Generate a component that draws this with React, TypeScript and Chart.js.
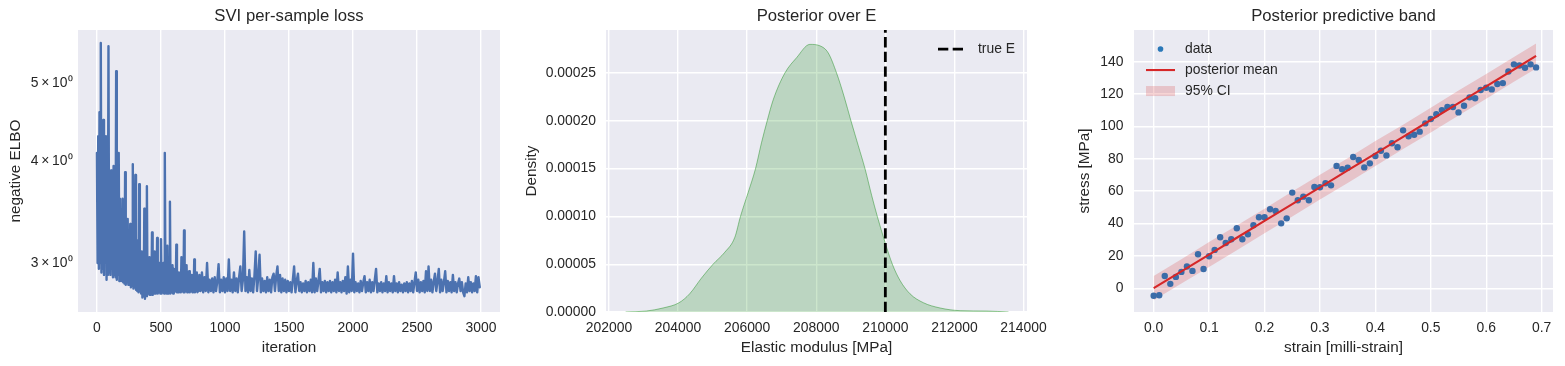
import React, { useEffect, useRef } from 'react';
import { Chart, registerables } from 'chart.js';

Chart.register(...registerables);

const FONT = "'Liberation Sans', Arial, Helvetica, sans-serif";
const TEXT = '#262626';
const BG = '#EAEAF2';

// ---------------- Panel 1: SVI per-sample loss ----------------
// iterations 0..795, one value every 5 iterations
const EARLY_STEP = 5;
const lossEarly = [
  4.1, 3.0, 4.3, 2.95, 4.6, 3.0, 5.6, 2.92, 4.2, 2.95,
  4.5, 2.9, 4.0, 3.1, 4.3, 2.86, 3.9, 2.9, 5.55, 2.92,
  3.6, 2.9, 3.9, 2.95, 3.3, 2.88, 3.95, 2.9, 3.7, 2.88,
  5.17, 2.86, 3.5, 2.9, 4.1, 2.85, 3.6, 2.87, 3.4, 2.85,
  3.6, 2.84, 3.3, 2.83, 3.88, 2.82, 3.2, 2.84, 3.4, 2.82,
  3.2, 2.82, 3.35, 2.8, 3.1, 2.81, 3.97, 2.79, 3.3, 2.8,
  3.85, 2.78, 3.1, 2.77, 3.2, 2.76, 3.75, 2.77, 3.0, 2.75,
  3.1, 2.72, 2.95, 2.73, 3.5, 2.71, 3.0, 2.73, 3.73, 2.74,
  2.95, 2.75, 3.05, 2.74, 2.9, 2.75, 3.27, 2.74, 2.95, 2.75,
  3.1, 2.75, 2.9, 2.76, 3.22, 2.75, 2.95, 2.76, 3.0, 2.75,
  3.21, 2.75, 2.92, 2.76, 3.0, 2.75, 4.1, 2.76, 2.95, 2.75,
  3.15, 2.75, 2.9, 2.76, 3.57, 2.75, 2.93, 2.76, 2.98, 2.75,
  2.95, 2.76, 2.9, 2.77, 3.16, 2.76, 2.88, 2.76, 2.92, 2.77,
  2.9, 2.76, 3.05, 2.77, 2.88, 2.76, 3.29, 2.76, 2.9, 2.77,
  2.98, 2.76, 2.88, 2.77, 2.93, 2.76, 2.87, 2.77, 2.9, 2.76,
  2.88, 2.77, 3.03, 2.76, 2.87, 2.77, 2.92, 2.76, 2.88, 2.77,
];
// iterations 800..2990, one value every 10 iterations
const LATE_START = 800;
const LATE_STEP = 10;
const lossLate = [
  2.9, 2.77, 2.92, 2.76, 2.88, 2.77, 3.0, 2.76, 2.86, 2.77,
  2.87, 2.76, 2.88, 2.77, 2.85, 2.99, 2.76, 2.86, 2.77, 2.88,
  2.76, 2.87, 2.77, 3.03, 2.77, 2.86, 2.76, 2.92, 2.77, 2.87,
  2.76, 2.88, 2.97, 2.77, 2.86, 3.28, 2.77, 2.88, 2.76, 2.94,
  2.77, 2.87, 2.76, 2.89, 3.1, 2.77, 2.88, 3.07, 2.76, 2.87,
  2.77, 2.85, 2.76, 2.88, 2.77, 2.86, 2.76, 2.88, 2.91, 2.77,
  2.89, 2.97, 2.77, 2.9, 2.76, 2.87, 2.77, 2.86, 2.76, 2.85,
  2.77, 2.84, 2.76, 2.86, 2.97, 2.76, 2.85, 2.91, 2.77, 2.84,
  2.76, 2.83, 2.77, 2.85, 2.76, 2.84, 2.77, 2.86, 2.76, 3.0,
  2.76, 2.87, 2.77, 2.85, 2.95, 2.76, 2.84, 2.77, 2.85, 2.76,
  2.84, 2.77, 2.85, 2.76, 2.84, 2.77, 2.86, 2.76, 2.92, 2.77,
  2.84, 2.76, 2.85, 2.77, 2.88, 2.75, 2.97, 2.76, 2.86, 2.77,
  3.08, 2.76, 2.84, 2.77, 2.83, 2.76, 2.85, 2.77, 2.84, 2.89,
  2.76, 2.84, 2.77, 2.86, 2.76, 2.84, 2.77, 2.86, 2.95, 2.76,
  2.83, 2.77, 2.84, 2.76, 2.83, 2.77, 2.89, 2.76, 2.84, 2.77,
  2.83, 2.76, 2.89, 2.77, 2.83, 2.76, 2.84, 2.77, 2.82, 2.76,
  2.83, 2.77, 2.84, 2.76, 2.83, 2.77, 2.85, 2.76, 2.84, 2.92,
  2.77, 2.86, 2.76, 2.84, 2.77, 2.85, 2.76, 2.93, 2.77, 2.97,
  2.77, 2.86, 2.76, 2.84, 2.91, 2.77, 2.85, 2.95, 2.76, 2.86,
  2.77, 2.84, 2.93, 2.76, 2.85, 2.77, 2.84, 2.76, 2.9, 2.77,
  2.84, 2.76, 2.83, 2.87, 2.77, 2.84, 2.76, 2.73, 2.83, 2.76,
  2.88, 2.77, 2.84, 2.76, 2.83, 2.77, 2.89, 2.76, 2.88, 2.8,
];
const iterationTicks = [0, 500, 1000, 1500, 2000, 2500, 3000];
const lossTicks = [3, 4, 5];

// ---------------- Panel 2: Posterior over E ----------------
const kdeE = [
  202483, 203082, 203565, 204029, 204338, 204676, 205014, 205353, 205643, 205807,
  206029, 206242, 206415, 206580, 206754, 207092, 207430, 207816, 208106, 208348,
  208589, 208802, 209005, 209217, 209411, 209604, 209768, 209990, 210203, 210425,
  210715, 211101, 211585, 212164, 212937, 213565,
];
const kdeDensity = [
  0.0, 0.0000010, 0.0000042, 0.0000097, 0.0000191, 0.0000354, 0.0000500, 0.0000625, 0.0000781, 0.0001000,
  0.0001250, 0.0001500, 0.0001770, 0.0002000, 0.0002220, 0.0002500, 0.0002660, 0.0002800, 0.0002785, 0.0002710,
  0.0002500, 0.0002260, 0.0002000, 0.0001740, 0.0001500, 0.0001220, 0.0001000, 0.0000730, 0.0000500, 0.0000330,
  0.0000190, 0.0000097, 0.0000042, 0.0000014, 0.0000010, 0.0,
];
const trueE = 210000;
const eTicks = [202000, 204000, 206000, 208000, 210000, 212000, 214000];
const densityTicks = [0, 0.00005, 0.0001, 0.00015, 0.0002, 0.00025];
const DENSITY_MIN = 0;
const DENSITY_MAX = 0.000295;

// ---------------- Panel 3: Posterior predictive band ----------------
const strain = [
  0.00, 0.01, 0.02, 0.03, 0.04, 0.05, 0.06, 0.07, 0.08, 0.09,
  0.10, 0.11, 0.12, 0.13, 0.14, 0.15, 0.16, 0.17, 0.18, 0.19,
  0.20, 0.21, 0.22, 0.23, 0.24, 0.25, 0.26, 0.27, 0.28, 0.29,
  0.30, 0.31, 0.32, 0.33, 0.34, 0.35, 0.36, 0.37, 0.38, 0.39,
  0.40, 0.41, 0.42, 0.43, 0.44, 0.45, 0.46, 0.47, 0.48, 0.49,
  0.50, 0.51, 0.52, 0.53, 0.54, 0.55, 0.56, 0.57, 0.58, 0.59,
  0.60, 0.61, 0.62, 0.63, 0.64, 0.65, 0.66, 0.67, 0.68, 0.69,
];
const stress = [
  -4.7, -4.3, 7.6, 2.7, 7.0, 10.1, 13.4, 10.7, 21.0, 11.9,
  19.8, 23.7, 31.5, 28.0, 30.3, 37.1, 30.3, 33.4, 38.9, 43.9,
  43.9, 48.8, 47.8, 40.1, 43.2, 59.1, 54.4, 56.6, 54.4, 62.6,
  62.4, 64.9, 63.6, 75.6, 73.5, 74.5, 81.1, 79.3, 74.7, 77.2,
  81.7, 85.0, 82.1, 89.6, 87.1, 97.6, 93.9, 94.9, 96.8, 101.9,
  104.6, 107.5, 110.1, 112.0, 112.0, 108.7, 112.8, 118.0, 117.4, 122.5,
  123.9, 122.9, 126.2, 126.8, 134.0, 138.4, 137.7, 136.3, 138.4, 136.5,
];
const bandStrain = [0, 0.05, 0.1, 0.15, 0.2, 0.25, 0.3, 0.35, 0.4, 0.45, 0.5, 0.55, 0.6, 0.65, 0.69];
const meanStress = [0, 10.4, 20.8, 31.2, 41.6, 52.0, 62.4, 72.8, 83.2, 93.6, 104.0, 114.4, 124.8, 135.2, 143.6];
const upperStress = [7.6, 17.9, 28.6, 38.8, 49.2, 59.8, 70.1, 80.4, 91.0, 101.1, 111.6, 122.2, 132.4, 142.9, 151.3];
const lowerStress = [-7.4, 2.9, 13.1, 23.5, 34.0, 44.3, 54.8, 65.1, 75.5, 86.0, 96.3, 106.8, 117.1, 127.6, 135.9];
const strainTicks = [0, 0.1, 0.2, 0.3, 0.4, 0.5, 0.6, 0.7];
const stressTicks = [0, 20, 40, 60, 80, 100, 120, 140];

// ---------------- shared helpers ----------------
const tickFont = { family: FONT, size: 13.9 };
const labelFont = { family: FONT, size: 15.3 };

const bgPlugin = {
  id: 'plotBg',
  beforeDraw(chart: any) {
    const { ctx, chartArea: a } = chart;
    ctx.save();
    ctx.fillStyle = BG;
    ctx.fillRect(a.left, a.top, a.right - a.left, a.bottom - a.top);
    ctx.restore();
  },
};

function fixedTicks(values: number[]) {
  return (scale: any) => {
    scale.ticks = values.map((v) => ({ value: v }));
  };
}

function titleOpts(text: string) {
  return {
    display: true,
    text,
    color: TEXT,
    fullSize: false,
    font: { family: FONT, size: 16.7, weight: 'normal' },
    padding: { top: 6, bottom: 4 },
  };
}

function xScale(min: number, max: number, ticks: number[], title: string, fmt: (v: number) => string) {
  return {
    type: 'linear',
    min,
    max,
    bounds: 'data',
    afterBuildTicks: fixedTicks(ticks),
    afterFit: (s: any) => {
      s.height = 54;
    },
    grid: { display: true, color: '#ffffff', lineWidth: 1.4, drawTicks: false },
    border: { display: false },
    ticks: {
      color: TEXT,
      font: tickFont,
      padding: 7.5,
      maxRotation: 0,
      minRotation: 0,
      autoSkip: false,
      callback: (v: any) => fmt(Number(v)),
    },
    title: { display: true, text: title, color: TEXT, font: labelFont, padding: { top: 0, bottom: 8.8 } },
  };
}

function yScale(
  type: string,
  min: number,
  max: number,
  ticks: number[],
  title: string,
  fmt: (v: number) => string,
  width: number,
  pad: number,
  titlePad: number,
  grid: boolean
) {
  return {
    type,
    min,
    max,
    bounds: 'data',
    afterBuildTicks: fixedTicks(ticks),
    afterFit: (s: any) => {
      s.width = width;
    },
    grid: { display: grid, color: '#ffffff', lineWidth: 1.4, drawTicks: false },
    border: { display: false },
    ticks: {
      color: TEXT,
      font: tickFont,
      padding: pad,
      autoSkip: false,
      callback: (v: any) => fmt(Number(v)),
    },
    title: { display: true, text: title, color: TEXT, font: labelFont, padding: { top: titlePad, bottom: 0 } },
  };
}

const baseOptions = {
  responsive: false,
  animation: false,
  events: [],
};

// ---------------- legends ----------------
const kdeLegendPlugin = {
  id: 'kdeLegend',
  afterDraw(chart: any) {
    const { ctx, chartArea: a } = chart;
    const y = a.top + 19;
    ctx.save();
    ctx.strokeStyle = '#000000';
    ctx.lineWidth = 2.8;
    ctx.setLineDash([10.3, 4.4]);
    ctx.beginPath();
    ctx.moveTo(a.right - 89, y);
    ctx.lineTo(a.right - 60, y);
    ctx.stroke();
    ctx.setLineDash([]);
    ctx.fillStyle = TEXT;
    ctx.font = `13.9px ${FONT}`;
    ctx.textBaseline = 'middle';
    ctx.textAlign = 'left';
    ctx.fillText('true E', a.right - 49, y);
    ctx.restore();
  },
};

const bandLegendPlugin = {
  id: 'bandLegend',
  afterDraw(chart: any) {
    const { ctx, chartArea: a } = chart;
    const x0 = a.left + 12;
    const x1 = a.left + 41;
    const tx = a.left + 51;
    const ys = [a.top + 19, a.top + 40, a.top + 61];
    ctx.save();
    ctx.fillStyle = '#2a78b8';
    ctx.beginPath();
    ctx.arc((x0 + x1) / 2, ys[0], 2.8, 0, Math.PI * 2);
    ctx.fill();
    ctx.strokeStyle = '#d62728';
    ctx.lineWidth = 2.1;
    ctx.beginPath();
    ctx.moveTo(x0, ys[1]);
    ctx.lineTo(x1, ys[1]);
    ctx.stroke();
    ctx.fillStyle = 'rgba(214,39,40,0.2)';
    ctx.fillRect(x0, ys[2] - 5, x1 - x0, 10);
    ctx.fillStyle = TEXT;
    ctx.font = `13.9px ${FONT}`;
    ctx.textBaseline = 'middle';
    ctx.textAlign = 'left';
    ctx.fillText('data', tx, ys[0]);
    ctx.fillText('posterior mean', tx, ys[1]);
    ctx.fillText('95% CI', tx, ys[2]);
    ctx.restore();
  },
};

// ---------------- configs ----------------
function lossConfig(): any {
  const points = [
    ...lossEarly.map((v, i) => ({ x: i * EARLY_STEP, y: v })),
    ...lossLate.map((v, i) => ({ x: LATE_START + i * LATE_STEP, y: v })),
  ];
  return {
    type: 'line',
    data: {
      datasets: [
        {
          data: points,
          borderColor: '#4C72B0',
          borderWidth: 2.4,
          borderJoinStyle: 'round',
          borderCapStyle: 'round',
          pointRadius: 0,
          tension: 0,
          fill: false,
        },
      ],
    },
    options: {
      ...baseOptions,
      layout: { padding: { left: 0, right: 20, top: 0, bottom: 0 } },
      plugins: { legend: { display: false }, tooltip: { enabled: false }, title: titleOpts('SVI per-sample loss') },
      scales: {
        x: xScale(-148, 3148, iterationTicks, 'iteration', (v) => String(v)),
        y: yScale('logarithmic', 2.61, 5.81, lossTicks, 'negative ELBO', (v) => `${v}\u2009×\u200910⁰`, 78, 5.5, 7, false),
      },
    },
    plugins: [bgPlugin],
  };
}

function kdeConfig(): any {
  return {
    type: 'line',
    data: {
      datasets: [
        {
          data: [
            { x: trueE, y: DENSITY_MIN },
            { x: trueE, y: DENSITY_MAX },
          ],
          borderColor: '#000000',
          borderWidth: 2.8,
          borderDash: [10.3, 4.4],
          pointRadius: 0,
          fill: false,
          order: 0,
        },
        {
          data: kdeE.map((e, i) => ({ x: e, y: kdeDensity[i] })),
          borderColor: 'rgba(0,128,0,0.45)',
          borderWidth: 0.9,
          backgroundColor: 'rgba(0,128,0,0.2)',
          fill: 'origin',
          pointRadius: 0,
          cubicInterpolationMode: 'monotone',
          order: 1,
        },
      ],
    },
    options: {
      ...baseOptions,
      layout: { padding: { left: 0, right: 38, top: 0, bottom: 0 } },
      plugins: { legend: { display: false }, tooltip: { enabled: false }, title: titleOpts('Posterior over E') },
      scales: {
        x: xScale(201915, 214100, eTicks, 'Elastic modulus [MPa]', (v) => String(v)),
        y: yScale('linear', DENSITY_MIN, DENSITY_MAX, densityTicks, 'Density', (v) => v.toFixed(5), 86, 10, 2.4, true),
      },
    },
    plugins: [bgPlugin, kdeLegendPlugin],
  };
}

function bandConfig(): any {
  const transparent = 'rgba(0,0,0,0)';
  return {
    type: 'line',
    data: {
      datasets: [
        {
          data: bandStrain.map((s, i) => ({ x: s, y: upperStress[i] })),
          borderColor: transparent,
          borderWidth: 1,
          pointRadius: 0,
          fill: false,
          order: 3,
        },
        {
          data: bandStrain.map((s, i) => ({ x: s, y: lowerStress[i] })),
          borderColor: transparent,
          borderWidth: 1,
          backgroundColor: 'rgba(214,39,40,0.2)',
          pointRadius: 0,
          fill: '-1',
          order: 2,
        },
        {
          data: strain.map((s, i) => ({ x: s, y: stress[i] })),
          showLine: false,
          pointRadius: 3.2,
          pointBorderWidth: 0,
          pointBackgroundColor: '#3a6ca8',
          borderColor: transparent,
          fill: false,
          order: 1,
        },
        {
          data: bandStrain.map((s, i) => ({ x: s, y: meanStress[i] })),
          borderColor: '#d62728',
          borderWidth: 2.1,
          pointRadius: 0,
          fill: false,
          order: 0,
        },
      ],
    },
    options: {
      ...baseOptions,
      layout: { padding: { left: 0, right: 12, top: 0, bottom: 0 } },
      plugins: { legend: { display: false }, tooltip: { enabled: false }, title: titleOpts('Posterior predictive band') },
      scales: {
        x: xScale(-0.0355, 0.7205, strainTicks, 'strain [milli-strain]', (v) => v.toFixed(1)),
        y: yScale('linear', -14.7, 159.6, stressTicks, 'stress [MPa]', (v) => String(v), 94, 10.5, 36, true),
      },
    },
    plugins: [bgPlugin, bandLegendPlugin],
  };
}

export default function App() {
  const r1 = useRef<HTMLCanvasElement>(null);
  const r2 = useRef<HTMLCanvasElement>(null);
  const r3 = useRef<HTMLCanvasElement>(null);

  useEffect(() => {
    Chart.defaults.font.family = FONT;
    Chart.defaults.color = TEXT;
    const charts = [
      new Chart(r1.current as HTMLCanvasElement, lossConfig()),
      new Chart(r2.current as HTMLCanvasElement, kdeConfig()),
      new Chart(r3.current as HTMLCanvasElement, bandConfig()),
    ];
    return () => charts.forEach((c) => c.destroy());
  }, []);

  const cs = (left: number, width: number): React.CSSProperties => ({
    position: 'absolute',
    left,
    top: 0,
    width,
    height: 366,
  });

  return (
    <div style={{ position: 'absolute', left: 0, top: 0, width: 1565, height: 366, background: '#ffffff' }}>
      <canvas ref={r1} width={520} height={366} style={cs(0, 520)} />
      <canvas ref={r2} width={545} height={366} style={cs(520, 545)} />
      <canvas ref={r3} width={525} height={366} style={cs(1040, 525)} />
    </div>
  );
}
